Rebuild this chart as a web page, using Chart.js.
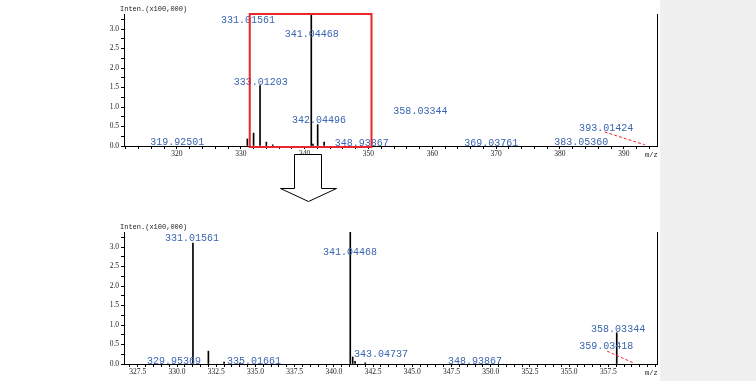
<!DOCTYPE html>
<html><head><meta charset="utf-8">
<script src="https://cdn.jsdelivr.net/npm/chart.js@4.4.1/dist/chart.umd.min.js"></script>
<style>
html,body{margin:0;padding:0;background:#fff;width:756px;height:381px;overflow:hidden;position:relative}
#c1{position:absolute;left:0;top:0}
#c2{position:absolute;left:0;top:205px}
#gr{position:absolute;left:660px;top:0;width:96px;height:381px;background:#f0f0f0}
#arrow{position:absolute;left:0;top:0}
</style></head><body>
<div id="gr"></div>
<canvas id="c1" width="756" height="170" style="width:756px;height:170px"></canvas>
<canvas id="c2" width="756" height="176" style="width:756px;height:176px"></canvas>
<svg id="arrow" width="756" height="381"><polygon points="294.5,154.5 321.5,154.5 321.5,188.5 336.5,188.5 308.5,201.5 280.5,188.5 294.5,188.5" fill="#fff" stroke="#000" stroke-width="1"/></svg>
<script>
// ---- Top spectrum (full range) ----
const topPeakMz  = [331.02, 332.0, 333.01, 334.0, 335.0, 341.04, 341.3, 342.04, 343.05];
const topPeakInt = [0.18,   0.33,  1.55,   0.1,   0.03,  3.4,    0.05,  0.55,   0.1];
const topLabelText = ['331.01561','341.04468','333.01203','342.04496','319.92501','348.93867','358.03344','369.03761','383.05360','393.01424'];
const topLabelMz   = [326.9, 336.9, 328.9, 338.0, 315.8, 344.7, 353.9, 365.0, 379.1, 383.0];
const topLabelInt  = [3.23, 2.87, 1.64, 0.67, 0.1, 0.08, 0.9, 0.08, 0.1, 0.46];
const topDashMz  = [387.0, 393.3];
const topDashInt = [0.36, 0.03];
const topBoxMz   = [331.4, 350.47];
const topXRange  = [311.7, 395.2];

// ---- Bottom spectrum (zoomed range) ----
const botPeakMz  = [331.016, 332.0, 333.0, 334.0, 341.045, 341.2, 341.35, 342.0, 358.033];
const botPeakInt = [3.1,     0.33,  0.05,  0.02,  3.4,     0.18,  0.07,   0.03,  0.8];
const botLabelText = ['331.01561','341.04468','329.95369','335.01661','343.04737','348.93867','358.03344','359.03418'];
const botLabelMz   = [329.23, 339.31, 328.09, 333.19, 341.29, 347.28, 356.4, 355.64];
const botLabelInt  = [3.23, 2.87, 0.08, 0.08, 0.26, 0.08, 0.9, 0.44];
const botDashMz  = [357.42, 359.08];
const botDashInt = [0.33, 0.03];
const botXRange  = [326.62, 360.6];

const yMax = 3.385;
const yTitle = 'Inten.(x100,000)';

const annot = {
  id: 'annot',
  afterDatasetsDraw(chart, args, o) {
    const {ctx, chartArea: a} = chart;
    const x = chart.scales.x, y = chart.scales.y;
    ctx.save();
    ctx.font = '10px "Liberation Mono", monospace';
    ctx.fillStyle = '#3a64b0';
    ctx.textAlign = 'left'; ctx.textBaseline = 'middle';
    o.text.forEach((t, i) => ctx.fillText(t, x.getPixelForValue(o.mz[i]), y.getPixelForValue(o.int[i])));
    // title and unit
    ctx.fillStyle = '#222';
    ctx.font = '7px "Liberation Mono", monospace';
    ctx.textBaseline = 'bottom';
    ctx.fillText(yTitle, a.left - 4, a.top - 1);
    ctx.textBaseline = 'middle';
    ctx.fillText('m/z', a.right - 12, a.bottom + 9);
    // red dashed
    ctx.strokeStyle = '#e8262b'; ctx.lineWidth = 1; ctx.setLineDash([3, 2]);
    ctx.beginPath();
    ctx.moveTo(x.getPixelForValue(o.dashMz[0]), y.getPixelForValue(o.dashInt[0]));
    ctx.lineTo(x.getPixelForValue(o.dashMz[1]), y.getPixelForValue(o.dashInt[1]));
    ctx.stroke();
    ctx.setLineDash([]);
    if (o.box) {
      ctx.lineWidth = 2;
      const x0 = x.getPixelForValue(o.box[0]), x1 = x.getPixelForValue(o.box[1]);
      ctx.strokeRect(x0, a.top, x1 - x0, a.bottom - a.top + 1);
    }
    ctx.restore();
  }
};

function make(id, mz, inten, xr, step, majorStep, dec, padTop, padBottom, xH, ann) {
  return new Chart(document.getElementById(id), {
    type: 'bar',
    data: { datasets: [{ data: mz.map((m, i) => ({x: m, y: inten[i]})), backgroundColor: '#000', barThickness: 1, borderWidth: 0, grouped: false }] },
    options: {
      responsive: false, animation: false, devicePixelRatio: 1,
      layout: { padding: { left: 94, right: 99, top: padTop, bottom: padBottom } },
      plugins: { legend: { display: false }, tooltip: { enabled: false }, annot: ann },
      scales: {
        x: {
          type: 'linear', min: xr[0], max: xr[1], offset: false,
          grid: { offset: false, drawOnChartArea: false, drawTicks: true, tickLength: 3, color: '#000' },
          border: { display: true, color: '#000', width: 1 },
          ticks: {
            stepSize: step, includeBounds: false, autoSkip: false, maxRotation: 0, padding: 1,
            color: '#222', font: { family: '"Liberation Serif", serif', size: 7.5 },
            callback: function (v) {
              if (v > this.max - 1.5) return '';
              return Math.abs(v / majorStep - Math.round(v / majorStep)) < 1e-6 ? v.toFixed(dec) : '';
            }
          },
          afterFit: s => { s.height = xH; }
        },
        y: {
          min: 0, max: yMax, position: 'left',
          grid: { drawOnChartArea: false, drawTicks: true, tickLength: 3, color: '#000' },
          border: { display: true, color: '#000', width: 1 },
          ticks: {
            stepSize: 0.25, includeBounds: false, autoSkip: false, padding: 2,
            color: '#222', font: { family: '"Liberation Serif", serif', size: 7.5 },
            callback: v => Math.abs(v / 0.5 - Math.round(v / 0.5)) < 1e-6 ? v.toFixed(1) : ''
          },
          afterFit: s => { s.width = 30; }
        },
        y2: {
          position: 'right', min: 0, max: yMax,
          grid: { drawOnChartArea: false, drawTicks: false },
          border: { display: true, color: '#000', width: 1 },
          ticks: { display: false },
          afterFit: s => { s.width = 0; }
        }
      }
    },
    plugins: [annot]
  });
}

make('c1', topPeakMz, topPeakInt, topXRange, 2, 10, 0, 14, 4, 20,
  { text: topLabelText, mz: topLabelMz, int: topLabelInt, dashMz: topDashMz, dashInt: topDashInt, box: topBoxMz });
make('c2', botPeakMz, botPeakInt, botXRange, 0.5, 2.5, 1, 27, 0, 17,
  { text: botLabelText, mz: botLabelMz, int: botLabelInt, dashMz: botDashMz, dashInt: botDashInt, box: null });
</script>
</body></html>
